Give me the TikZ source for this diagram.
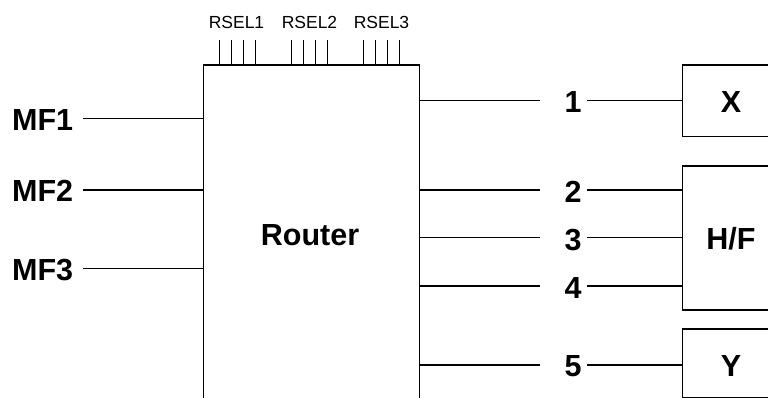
\documentclass[tikz,border=0pt]{standalone}
\usepackage{fontspec}
\setmainfont{Liberation Sans}
\begin{document}
\begin{tikzpicture}[x=1pt,y=-1pt,
  wire/.style={line width=1.3pt,black},
  boxline/.style={line width=1.4pt,black},
  biglabel/.style={inner sep=0pt,font=\fontsize{30.5}{36}\selectfont\bfseries},
  smalllabel/.style={inner sep=0pt,font=\fontsize{17.5}{20}\selectfont}]
\useasboundingbox (0,0) rectangle (768,398);
% Router box
\draw[boxline] (203.5,398) -- (203.5,65) -- (419.5,65) -- (419.5,398);
\node[biglabel,anchor=base] (router) at (310,245) {Router};
% RSEL labels and ticks
\node[smalllabel,anchor=base] (rsel1) at (236.5,28.3) {RSEL1};
\node[smalllabel,anchor=base] (rsel2) at (309.5,28.3) {RSEL2};
\node[smalllabel,anchor=base] (rsel3) at (381.5,28.3) {RSEL3};
\foreach \x in {219.3,231.3,243.3,255.3,291.3,303.3,315.3,327.3,363.3,375.3,387.3,399.3}
  \draw[wire] (\x,40) -- (\x,65);
% Inputs
\node[biglabel,anchor=base west] (mf1) at (12,130.5) {MF1};
\node[biglabel,anchor=base west] (mf2) at (12,201.5) {MF2};
\node[biglabel,anchor=base west] (mf3) at (12,280) {MF3};
\coordinate (mf1s) at (83,118.3); \coordinate (mf1e) at (203.5,118.3);
\coordinate (mf2s) at (83,190);   \coordinate (mf2e) at (203.5,190);
\coordinate (mf3s) at (83,268.3); \coordinate (mf3e) at (203.5,268.3);
\draw[wire] (mf1s) -- (mf1e);
\draw[wire] (mf2s) -- (mf2e);
\draw[wire] (mf3s) -- (mf3e);
% Output boxes
\draw[boxline] (768,65) -- (682.7,65) -- (682.7,136.7) -- (768,136.7);
\draw[boxline] (768,166) -- (682.7,166) -- (682.7,310) -- (768,310);
\draw[boxline] (768,398) -- (682.7,398) -- (682.7,329) -- (768,329);
\node[biglabel,anchor=base] (x) at (731,112.7) {X};
\node[biglabel,anchor=base] (hf) at (731,249.3) {H/F};
\node[biglabel,anchor=base] (y) at (731,376) {Y};
% Outputs
\foreach \n/\yy/\bb in {1/100.7/112.7, 2/190/202.7, 3/237.5/250, 4/286/298.3, 5/365/376}{
  \node[biglabel,anchor=base] (o\n) at (573,\bb) {\n};
  \coordinate (r\n) at (419.5,\yy);
  \coordinate (a\n) at (540,\yy);
  \coordinate (b\n) at (587,\yy);
  \coordinate (c\n) at (682.7,\yy);
  \draw[wire] (r\n) -- (a\n);
  \draw[wire] (b\n) -- (c\n);
}
\end{tikzpicture}
\end{document}
